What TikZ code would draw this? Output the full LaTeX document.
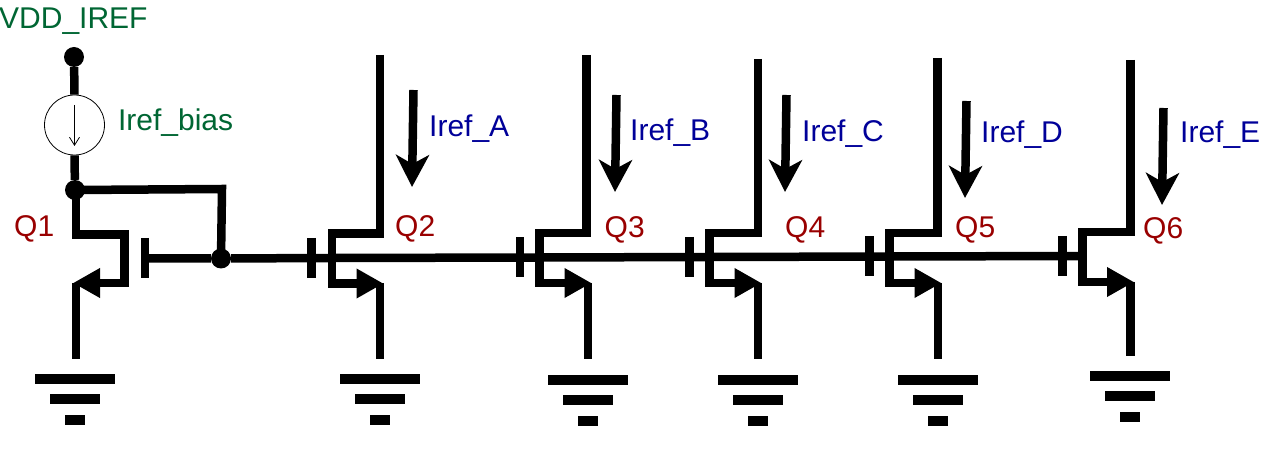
\documentclass[tikz,border=0pt]{standalone}
\usepackage{fontspec}
\setmainfont{Liberation Sans}
\usetikzlibrary{positioning,arrows.meta}
\definecolor{netgreen}{HTML}{006633}
\definecolor{refblue}{HTML}{000099}
\definecolor{devred}{HTML}{990000}
\tikzset{
  wire/.style={line width=8.5pt,black},
  junction/.style={circle,fill=black,inner sep=0pt,minimum size=20pt},
  gndbar/.style={rectangle,fill=black,inner sep=0pt,minimum height=10pt},
  srcarrow/.style={wire,-{Triangle[length=27pt,width=28pt]}},
  currarrow/.style={wire,-{Stealth[length=32pt,width=33pt,inset=9pt]}},
  lbl/.style={inner sep=0pt,anchor=base west,font=\fontsize{30}{30}\selectfont},
}
\begin{document}
\begin{tikzpicture}[x=1pt,y=-1pt]
\useasboundingbox (0,0) rectangle (1261,462);
% bias branch
\node[lbl,text=netgreen](VDD) at (-1,28.5){VDD\_IREF};
\node[junction](VT) at (74,57){};
\node[circle,draw,line width=0.8pt,inner sep=0pt,minimum size=60pt](IB) at (74.5,125){};
\node[lbl,text=netgreen,right=13pt of IB.east,anchor=west,yshift=2pt](IBL){Iref\_bias};
\coordinate(IBa) at (74.5,105);
\coordinate(IBb) at (74.5,146);
\draw[-{Straight Barb[length=8pt,width=10pt]},line width=0.8pt](IBa)--(IBb);
\node[junction](N1) at (75,190){};
\node[junction](N2) at (221,258.5){};
\draw[wire](VT)--(IB.north);
\draw[wire](IB.south)--(N1);
\draw[wire](N1.center)--(222,189)--(N2.center);
% Q1
\coordinate(D1) at (76,190);
\coordinate(C1) at (124.5,234.5);
\coordinate(S1) at (124.5,283);
\coordinate(T1) at (73,283);
\coordinate(E1) at (76,359);
\coordinate(B1a) at (145,238);
\coordinate(B1b) at (145,278);
\coordinate(G1) at (145,258.5);
\node[lbl,text=devred](Q1) at (14,237){Q1};
\draw[wire](D1)--(76,234.5)--(C1)--(S1)--(98,283);
\draw[srcarrow](S1)--(T1);
\draw[wire](76,283)--(E1);
\draw[wire](B1a)--(B1b);
% Q2 to Q6
\foreach \n/\dx/\dt/\cx/\bx/\sx/\dy/\gy/\ey/\lx/\ly in {
  2/380/55/332/311.5/380/233.5/258/359/395/236.5,
  3/586.5/55/539.5/520/588/233/257.5/359/604.5/237.5,
  4/758/59/709.5/689.5/758/233/257/359/785/237.5,
  5/937.5/58/889.5/869.5/938/233/256.5/359/955/237.5,
  6/1130.5/60/1082.5/1062.5/1130.5/232/256/356/1143/238.5}{
  \coordinate(D\n) at (\dx,\dt);
  \coordinate(K\n) at (\dx,\dy);
  \coordinate(C\n) at (\cx,\dy);
  \coordinate(S\n) at (\cx,\dy+50);
  \coordinate(T\n) at (\sx+3.5,\dy+50);
  \coordinate(V\n) at (\sx,\dy+50);
  \coordinate(E\n) at (\sx,\ey);
  \coordinate(B\n a) at (\bx,\gy-20);
  \coordinate(B\n b) at (\bx,\gy+20);
  \coordinate(G\n) at (\cx,\gy);
  \node[lbl,text=devred](Q\n) at (\lx,\ly){Q\n};
  \draw[wire](D\n)--(K\n)--(C\n)--(S\n)--([xshift=20pt]S\n);
  \draw[srcarrow](S\n)--(T\n);
  \draw[wire](V\n)--(E\n);
  \draw[wire](B\n a)--(B\n b);
}
% gate rail
\draw[wire](G1)--(N2)--(G2)--(G3)--(G4)--(G5)--(G6);
% grounds
\foreach \n/\gx/\gy in {1/75/379,2/380/379,3/588/380,4/758/380,5/938/380,6/1130/376}{
  \node[gndbar,minimum width=80pt](GA\n) at (\gx,\gy){};
  \node[gndbar,minimum width=50pt,below=10pt of GA\n](GB\n){};
  \node[gndbar,minimum width=20pt,below=10pt of GB\n](GC\n){};
}
% reference currents
\foreach \n/\ax/\ay/\tx/\ty/\lx/\ly/\name in {
  A/413.5/90/412/187/429/137/A,
  B/616.5/95/615/192/630/141/B,
  C/786.5/95/785/192/802/142/C,
  D/966.5/101/965/198/981/143/D,
  E/1163.5/108/1162/205/1180/143/E}{
  \coordinate(I\n a) at (\ax,\ay);
  \coordinate(I\n b) at (\tx,\ty);
  \draw[currarrow](I\n a)--(I\n b);
  \node[lbl,text=refblue](L\n) at (\lx,\ly){Iref\_\name};
}
\end{tikzpicture}
\end{document}
